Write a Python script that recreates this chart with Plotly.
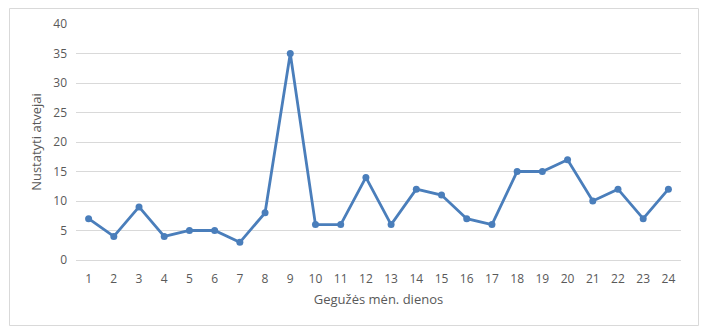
import plotly.graph_objects as go

days = [str(i) for i in range(1, 25)]
cases = [7, 4, 9, 4, 5, 5, 3, 8, 35, 6, 6, 14, 6, 12, 11, 7, 6, 15, 15, 17, 10, 12, 7, 12]
y_ticks = [0, 5, 10, 15, 20, 25, 30, 35, 40]

W, H = 710, 332
L, R, T, B = 76, 29, 24, 72
pw, ph = W - L - R, H - T - B

def px_to_paper_x(px):
    return (px - L) / pw

def px_to_paper_y(py):
    return (H - B - py) / ph

fig = go.Figure()
fig.add_trace(go.Scatter(
    x=days, y=cases, mode="lines+markers",
    line=dict(color="#4A7EBB", width=2.8),
    marker=dict(color="#4A7EBB", size=7),
    showlegend=False,
))

fig.add_shape(type="rect", xref="paper", yref="paper",
              x0=px_to_paper_x(9.5), x1=px_to_paper_x(698.5),
              y0=px_to_paper_y(325.5), y1=px_to_paper_y(8.5),
              line=dict(color="#D9D9D9", width=1), layer="below")

font_color = "#595959"
fig.update_layout(
    width=W, height=H,
    margin=dict(l=L, r=R, t=T, b=B),
    paper_bgcolor="white", plot_bgcolor="white",
    font=dict(family="Open Sans", size=12, color=font_color),
    xaxis=dict(
        type="category", range=[-0.5, 23.5],
        showgrid=False, zeroline=False,
        showline=True, linecolor="#D9D9D9", linewidth=1,
        ticks="", tickfont=dict(size=12, color=font_color),
        ticklabelstandoff=8,
        title=dict(text="Gegužės mėn. dienos", font=dict(size=13, color=font_color), standoff=8),
    ),
    yaxis=dict(
        range=[0, 40], tickvals=y_ticks,
        showgrid=True, gridcolor="#D9D9D9", gridwidth=1,
        zeroline=False, showline=False, ticks="",
        tickfont=dict(size=12, color=font_color),
        ticklabelstandoff=8,
        title=dict(text="Nustatyti atvejai", font=dict(size=13, color=font_color), standoff=8),
    ),
)

fig.write_html("out.html")
